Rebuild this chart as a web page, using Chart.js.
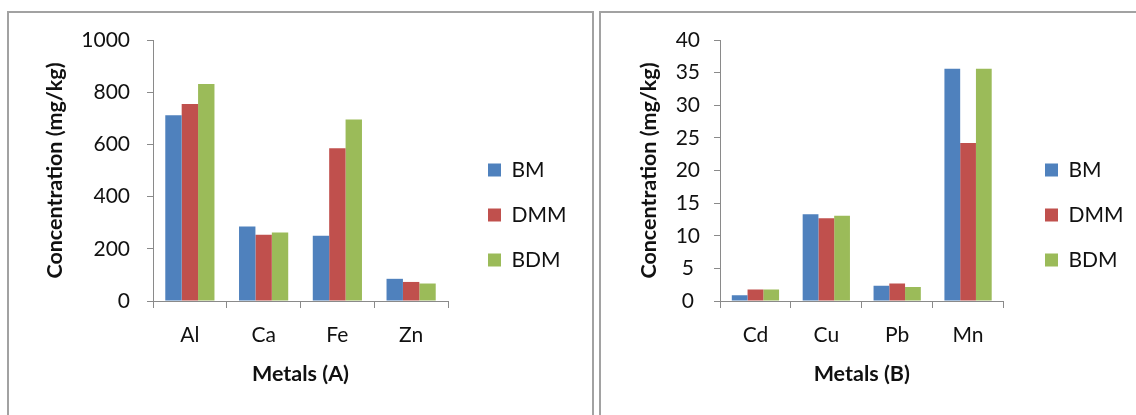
<!DOCTYPE html>
<html>
<head>
<meta charset="utf-8">
<script src="https://cdn.jsdelivr.net/npm/chart.js@4.4.1/dist/chart.umd.min.js"></script>
<style>
  html, body { margin: 0; padding: 0; background: #fff; }
  #wrap { position: relative; width: 1136px; height: 415px; overflow: hidden; }
  .frame { position: absolute; border: 2px solid #a2a2a2; box-sizing: border-box; }
  #frameA { left: 7px; top: 11px; width: 587px; height: 420px; }
  #frameB { left: 599px; top: 11px; width: 560px; height: 420px; }
  canvas { position: absolute; top: 0; }
  #cA { left: 0; }
  #cB { left: 596px; }
</style>
</head>
<body>
<div id="wrap">
  <div class="frame" id="frameA"></div>
  <div class="frame" id="frameB"></div>
  <canvas id="cA" width="596" height="415"></canvas>
  <canvas id="cB" width="540" height="415"></canvas>
</div>
<script>
// ---- data ----
const seriesNames = ['BM', 'DMM', 'BDM'];
const seriesColors = ['#4F81BD', '#C0504D', '#9BBB59'];

const metalsA = ['Al', 'Ca', 'Fe', 'Zn'];
const bmA  = [712, 285, 250, 85];
const dmmA = [755, 254, 585, 73];
const bdmA = [831, 262, 695, 67];
const yTicksA = [0, 200, 400, 600, 800, 1000];

const metalsB = ['Cd', 'Cu', 'Pb', 'Mn'];
const bmB  = [0.87, 13.3, 2.35, 35.6];
const dmmB = [1.75, 12.7, 2.7, 24.2];
const bdmB = [1.75, 13.05, 2.15, 35.6];
const yTicksB = [0, 5, 10, 15, 20, 25, 30, 35, 40];

const FONT = 'Lato, Calibri, "Open Sans", sans-serif';
const AXIS_GRAY = '#8a8a8a';
const TITLE_SIZE = 21.5;
Chart.defaults.font.family = FONT;
Chart.defaults.color = '#111';

function makeChart(canvasId, cfg) {
  const legendPad = 24;
  const layoutPlugin = {
    id: 'fixLayout',
    beforeInit(chart) {
      const lg = chart.legend;
      if (lg) {
        const origFit = lg.fit;
        lg.fit = function () {
          origFit.call(this);
          this.width = cfg.legendWidth;
        };
      }
    },
    afterLayout(chart) {
      const lg = chart.legend;
      if (!lg) return;
      const w = lg.width;
      lg.left = cfg.legendBoxX - legendPad;
      lg.right = lg.left + w;
      lg.top = cfg.legendTop;
      lg.bottom = cfg.legendBottom;
      lg.height = lg.bottom - lg.top;
    }
  };

  return new Chart(document.getElementById(canvasId), {
    type: 'bar',
    data: {
      labels: cfg.labels,
      datasets: cfg.series.map((vals, i) => ({
        label: seriesNames[i],
        data: vals,
        backgroundColor: seriesColors[i],
        borderWidth: 0,
        categoryPercentage: 0.667,
        barPercentage: 1.0
      }))
    },
    options: {
      responsive: false,
      animation: false,
      events: [],
      layout: { padding: { left: cfg.padLeft, top: 40, right: 0, bottom: 28 } },
      plugins: {
        tooltip: { enabled: false },
        title: { display: false },
        legend: {
          display: true,
          position: 'right',
          align: 'center',
          labels: {
            boxWidth: 13,
            boxHeight: 13,
            padding: legendPad,
            color: '#111',
            font: { size: 21 }
          }
        }
      },
      scales: {
        x: {
          afterFit(scale) { scale.height = 387 - 301; },
          grid: {
            display: true,
            drawOnChartArea: false,
            drawTicks: true,
            tickLength: 7,
            color: AXIS_GRAY,
            lineWidth: 1
          },
          border: { display: true, color: AXIS_GRAY, width: 1 },
          ticks: { padding: 15, color: '#111', font: { size: 21 } },
          title: {
            display: true,
            text: cfg.xTitle,
            color: '#111',
            font: { size: TITLE_SIZE, weight: 'bold' },
            padding: { top: 0, bottom: 0 }
          }
        },
        y: {
          min: cfg.yTicks[0],
          max: cfg.yTicks[cfg.yTicks.length - 1],
          afterFit(scale) { scale.width = cfg.yWidth; },
          afterBuildTicks(scale) { scale.ticks = cfg.yTicks.map(v => ({ value: v })); },
          grid: {
            display: true,
            drawOnChartArea: false,
            drawTicks: true,
            tickLength: 6,
            color: AXIS_GRAY,
            lineWidth: 1
          },
          border: { display: true, color: AXIS_GRAY, width: 1 },
          ticks: {
            padding: cfg.tickPad,
            crossAlign: cfg.crossAlign,
            color: '#111',
            font: { size: 21 },
            callback: v => String(v)
          },
          title: {
            display: true,
            text: 'Concentration (mg/kg)',
            color: '#111',
            font: { size: TITLE_SIZE, weight: 'bold' },
            padding: { top: 0, bottom: 0 }
          }
        }
      }
    },
    plugins: [layoutPlugin]
  });
}

makeChart('cA', {
  labels: metalsA,
  series: [bmA, dmmA, bdmA],
  yTicks: yTicksA,
  xTitle: 'Metals (A)',
  padLeft: 42,
  yWidth: 153 - 42,
  tickPad: 17,
  crossAlign: 'near',
  legendWidth: 596 - 448,
  legendBoxX: 488,
  legendTop: 15,
  legendBottom: 415
});

makeChart('cB', {
  labels: metalsB,
  series: [bmB, dmmB, bdmB],
  yTicks: yTicksB,
  xTitle: 'Metals (B)',
  padLeft: 40,
  yWidth: 124 - 40,
  tickPad: 14,
  crossAlign: 'center',
  legendWidth: 540 - 407.5,
  legendBoxX: 1045 - 596,
  legendTop: 15,
  legendBottom: 415
});
</script>
</body>
</html>
